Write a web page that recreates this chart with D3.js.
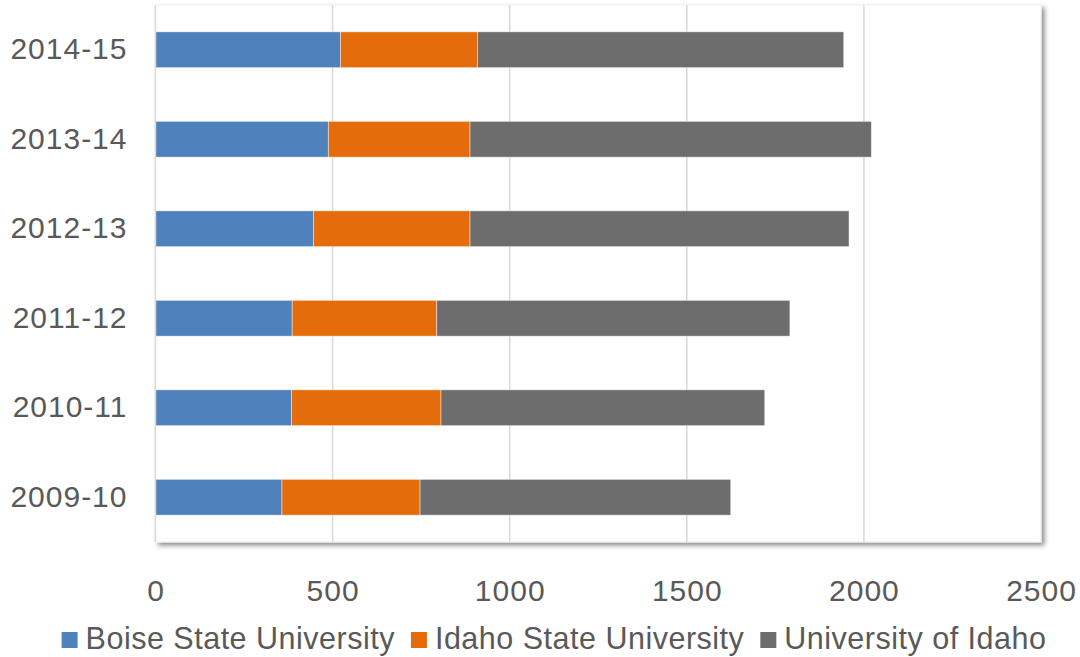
<!DOCTYPE html>
<html>
<head>
<meta charset="utf-8">
<script src="https://cdn.jsdelivr.net/npm/d3@7"></script>
<style>
  html, body { margin: 0; padding: 0; background: #fff; }
  svg { display: block; font-family: "Liberation Sans", Arial, sans-serif; }
</style>
</head>
<body>
<div id="chart"></div>
<script>
// data, bottom row first
const years = ['2009-10', '2010-11', '2011-12', '2012-13', '2013-14', '2014-15'];
const seriesNames = ['Boise State University', 'Idaho State University', 'University of Idaho'];
const boise = [357, 384, 386, 446, 488, 522];
const idahoState = [390, 422, 408, 442, 400, 387];
const uofi = [877, 914, 997, 1070, 1133, 1034];
const xTicks = [0, 500, 1000, 1500, 2000, 2500];
const colors = ['#4F81BD', '#E46C0A', '#6D6D6D'];

const width = 1080, height = 657;
const plot = { left: 155.5, right: 1041, top: 5, bottom: 542 };
const textColor = '#595959';

const rows = years.map((y, i) => ({
    year: y,
    'Boise State University': boise[i],
    'Idaho State University': idahoState[i],
    'University of Idaho': uofi[i]
}));

const stacked = d3.stack().keys(seriesNames)(rows);

const x = d3.scaleLinear()
    .domain([0, 2500])
    .range([plot.left, plot.right]);

const y = d3.scaleBand()
    .domain(years.slice().reverse())
    .range([plot.top, plot.bottom])
    .paddingInner(0.6)
    .paddingOuter(0.3);

const svg = d3.select('#chart')
    .append('svg')
    .attr('width', width)
    .attr('height', height);

// plot area shadow
const defs = svg.append('defs');
const shadow = defs.append('filter')
    .attr('id', 'plotShadow')
    .attr('x', '-5%').attr('y', '-5%')
    .attr('width', '110%').attr('height', '110%');
shadow.append('feDropShadow')
    .attr('dx', 3).attr('dy', 3)
    .attr('stdDeviation', 2.5)
    .attr('flood-color', '#000')
    .attr('flood-opacity', 0.45);

svg.append('rect')
    .attr('x', plot.left)
    .attr('y', plot.top)
    .attr('width', plot.right - plot.left)
    .attr('height', plot.bottom - plot.top)
    .attr('fill', '#fff')
    .attr('stroke', '#efefef')
    .attr('stroke-width', 1)
    .attr('filter', 'url(#plotShadow)');

// gridlines
svg.append('g')
    .selectAll('line')
    .data(xTicks.filter(d => d > 0 && d < 2500))
    .join('line')
    .attr('x1', d => x(d)).attr('x2', d => x(d))
    .attr('y1', plot.top).attr('y2', plot.bottom)
    .attr('stroke', '#d9d9d9')
    .attr('stroke-width', 1.5);

// bars
svg.append('g')
    .selectAll('g')
    .data(stacked)
    .join('g')
    .attr('fill', (d, i) => colors[i])
    .selectAll('rect')
    .data(d => d)
    .join('rect')
    .attr('x', d => x(d[0]))
    .attr('y', d => y(d.data.year))
    .attr('width', d => x(d[1]) - x(d[0]))
    .attr('height', y.bandwidth())
    .attr('stroke', '#ffffff')
    .attr('stroke-opacity', 0.55)
    .attr('stroke-width', 0.8);

// y axis line
svg.append('line')
    .attr('x1', plot.left).attr('x2', plot.left)
    .attr('y1', plot.top).attr('y2', plot.bottom)
    .attr('stroke', '#d9d9d9')
    .attr('stroke-width', 1.5);

// x axis
const xAxis = svg.append('g')
    .attr('transform', `translate(0,${plot.bottom})`)
    .call(d3.axisBottom(x).tickValues(xTicks).tickFormat(d3.format('d')).tickSize(0).tickPadding(38));
xAxis.select('.domain').remove();
xAxis.selectAll('text')
    .attr('fill', textColor)
    .style('font-size', '30px')
    .style('letter-spacing', '1px')
    .style('font-family', '"Liberation Sans", Arial, sans-serif');

// y axis labels
const yAxis = svg.append('g')
    .attr('transform', `translate(${plot.left},0)`)
    .call(d3.axisLeft(y).tickSize(0).tickPadding(28));
yAxis.select('.domain').remove();
yAxis.selectAll('text')
    .attr('fill', textColor)
    .style('font-size', '30px')
    .style('letter-spacing', '1px')
    .style('font-family', '"Liberation Sans", Arial, sans-serif');

// legend
const legend = svg.append('g').attr('transform', 'translate(0,649)');
const items = legend.selectAll('g')
    .data(seriesNames)
    .join('g');
items.append('rect')
    .attr('width', 16).attr('height', 16)
    .attr('y', -17)
    .attr('fill', (d, i) => colors[i]);
items.append('text')
    .attr('x', 24)
    .attr('fill', textColor)
    .style('font-size', '30.5px')
    .style('letter-spacing', '0.5px')
    .text(d => d);

let offset = 0;
const widths = [];
items.each(function () {
    const w = 24 + this.querySelector('text').getComputedTextLength();
    widths.push(w);
});
const gap = 16;
const total = d3.sum(widths) + gap * (widths.length - 1);
offset = 554 - total / 2;
items.attr('transform', (d, i) => {
    const pos = offset;
    offset += widths[i] + gap;
    return `translate(${pos},0)`;
});
</script>
</body>
</html>
